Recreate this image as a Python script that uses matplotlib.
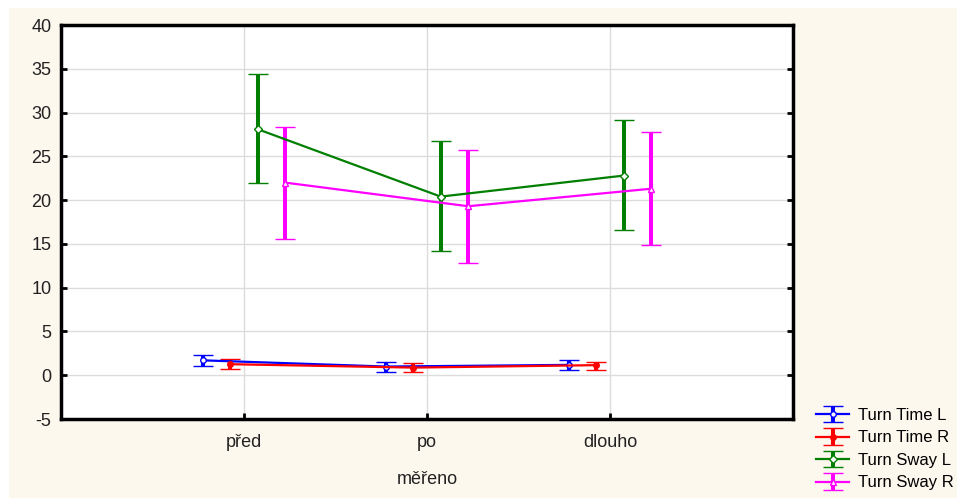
import matplotlib.pyplot as plt
from matplotlib.patches import Rectangle

plt.rcParams['font.family'] = ['Liberation Sans', 'DejaVu Sans']
plt.rcParams['axes.unicode_minus'] = False

# Data
categories = ['před', 'po', 'dlouho']
series_names = ['Turn Time L', 'Turn Time R', 'Turn Sway L', 'Turn Sway R']

time_l_mean = [1.7, 0.99, 1.18]
time_l_low = [1.1, 0.34, 0.61]
time_l_high = [2.3, 1.56, 1.79]

time_r_mean = [1.26, 0.87, 1.15]
time_r_low = [0.76, 0.38, 0.61]
time_r_high = [1.8, 1.37, 1.56]

sway_l_mean = [28.1, 20.4, 22.8]
sway_l_low = [21.95, 14.2, 16.6]
sway_l_high = [34.4, 26.7, 29.1]

sway_r_mean = [22.0, 19.3, 21.3]
sway_r_low = [15.6, 12.8, 14.9]
sway_r_high = [28.4, 25.7, 27.8]

means = [time_l_mean, time_r_mean, sway_l_mean, sway_r_mean]
lows = [time_l_low, time_r_low, sway_l_low, sway_r_low]
highs = [time_l_high, time_r_high, sway_l_high, sway_r_high]

colors = ['#0000ff', '#ff0000', '#007f00', '#ff00ff']
markers = ['o', 'o', 'D', '^']
facecols = ['white', '#ff0000', 'white', 'white']
offsets = [-0.225, -0.075, 0.075, 0.225]

fig = plt.figure(figsize=(9.57, 4.98), dpi=100)
fig.patch.set_facecolor('white')
fig.patches.append(Rectangle((9 / 957, 0), 1, 1 - 8 / 498, transform=fig.transFigure,
                             facecolor='#fdf8ee', edgecolor='none', zorder=-10))

ax = fig.add_axes([61 / 957, 1 - 419 / 498, 732 / 957, 394 / 498])
ax.set_facecolor('white')

xs = [1, 2, 3]
handles = []
for i in range(4):
    x = [v + offsets[i] for v in xs]
    m = means[i]
    yerr = [[m[k] - lows[i][k] for k in range(3)], [highs[i][k] - m[k] for k in range(3)]]
    h = ax.errorbar(x, m, yerr=yerr, color=colors[i], lw=1.6, elinewidth=2.9,
                    capsize=7.5, capthick=2.9, marker=markers[i], ms=4,
                    mfc=facecols[i], mec=colors[i], mew=1.0, zorder=3)
    handles.append(h)

ax.set_xlim(0, 4)
ax.set_ylim(-5, 40)
ax.set_yticks(range(-5, 41, 5))
ax.set_xticks(xs)
ax.set_xticklabels(categories)
ax.grid(True, color='#dcdcdc', lw=1.0, zorder=0)
ax.set_axisbelow(True)

for s in ax.spines.values():
    s.set_linewidth(2.5)
    s.set_color('black')
ax.tick_params(axis='both', direction='in', length=4, width=2, labelsize=13,
               labelcolor='#222222', right=True)
ax.tick_params(axis='y', pad=7)
ax.tick_params(axis='x', pad=11)
ax.set_xlabel('měřeno', fontsize=13, color='#222222', labelpad=14)

fig.legend(handles, series_names, loc='lower left', bbox_to_anchor=(806 / 957, -0.005),
           frameon=False, fontsize=12, handlelength=2.0, handletextpad=0.5,
           labelspacing=0.45, borderaxespad=0.2)

fig.savefig('out.png', dpi=100, facecolor=fig.get_facecolor())
